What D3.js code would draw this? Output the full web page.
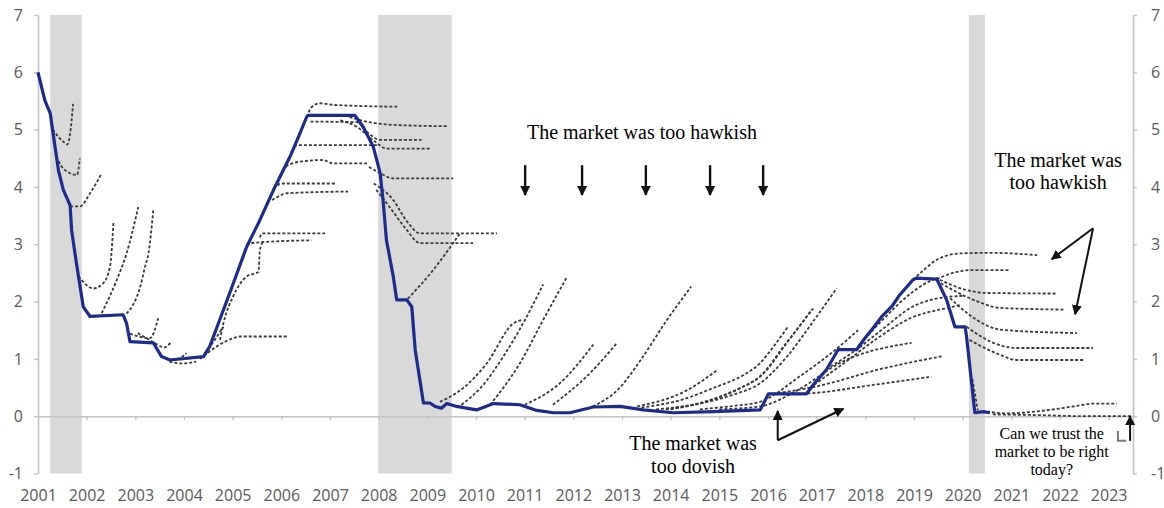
<!DOCTYPE html>
<html><head><meta charset="utf-8">
<script src="https://cdn.jsdelivr.net/npm/d3@7"></script>
<style>
html,body{margin:0;padding:0;background:#fff;}
svg{display:block;}
</style></head><body>
<svg id="chart" width="1164" height="508"></svg>
<script>
// ---------------- DATA ----------------
const yearTicks = d3.range(2001, 2024);            // x labels 2001..2023
const yTicks = [-1, 0, 1, 2, 3, 4, 5, 6, 7];
const recessions = [[2001.25, 2001.90], [2007.99, 2009.50], [2020.13, 2020.46]];

// Fed funds rate (solid blue line)
const fedYears = [2001.00,2001.14,2001.25,2001.35,2001.42,2001.52,2001.66,2001.69,2001.80,2001.93,2002.07,2002.75,2002.82,2002.89,
  2003.37,2003.54,2003.71,2004.40,2004.53,2004.94,2005.29,2005.53,2005.84,2006.18,2006.38,2006.52,2006.55,2007.51,2007.68,2007.89,
  2008.03,2008.09,2008.16,2008.30,2008.37,2008.58,2008.68,2008.75,2008.92,2009.05,2009.16,2009.29,2009.40,2009.60,2010.01,2010.36,
  2010.90,2011.25,2011.59,2011.93,2012.41,2012.96,2013.44,2014.05,2014.88,2015.84,2016.01,2016.79,2016.96,2017.20,2017.44,2017.82,
  2017.99,2018.16,2018.34,2018.54,2018.71,2018.98,2019.05,2019.47,2019.67,2019.84,2020.05,2020.08,2020.25,2020.42,2020.56];
const fedRates = [6.00,5.51,5.29,4.70,4.29,3.95,3.68,3.25,2.61,1.91,1.74,1.77,1.62,1.30,
  1.28,1.04,0.98,1.04,1.22,2.15,2.96,3.37,3.95,4.53,4.93,5.22,5.25,5.25,5.05,4.70,
  4.24,3.77,3.07,2.44,2.03,2.03,1.91,1.16,0.23,0.23,0.17,0.14,0.22,0.17,0.11,0.22,
  0.20,0.10,0.06,0.06,0.16,0.17,0.11,0.06,0.08,0.11,0.39,0.39,0.58,0.81,1.16,1.16,
  1.36,1.54,1.74,1.91,2.12,2.38,2.41,2.39,2.03,1.56,1.56,1.39,0.06,0.08,0.06];

// Market-implied paths (dotted), grouped by period: [year, rate]
const paths2001 = [
  [[2001.30,5.00],[2001.52,4.79],[2001.60,4.74],[2001.66,4.93],[2001.72,5.45]],
  [[2001.38,4.53],[2001.52,4.32],[2001.80,4.21],[2001.86,4.50]],
  [[2001.66,3.66],[2001.86,3.66],[2002.07,3.89],[2002.31,4.24]],
  [[2001.83,2.44],[2002.14,2.23],[2002.34,2.32],[2002.48,2.61],[2002.55,3.37]],
  [[2002.31,1.80],[2002.62,2.38],[2002.82,2.84],[2003.06,3.65]],
  [[2002.82,1.79],[2003.10,2.26],[2003.20,2.61],[2003.27,2.84],[2003.37,3.60]],
  [[2002.89,1.44],[2003.30,1.36],[2003.47,1.71]],
  [[2003.05,1.45],[2003.35,1.30],[2003.60,1.20],[2003.72,1.28]],
  [[2003.65,1.00],[2003.85,1.00],[2004.05,1.10]],
  [[2003.70,0.95],[2003.95,0.92],[2004.25,0.95]]
];
const paths2004 = [
  [[2004.33,1.00],[2004.68,1.22],[2005.01,1.36],[2005.15,1.39],[2006.12,1.39]],
  [[2004.45,1.10],[2004.81,1.56]],
  [[2004.74,1.33],[2004.81,1.62],[2005.01,2.09],[2005.29,2.44],[2005.53,2.52],[2005.56,2.90],[2005.63,3.05]],
  [[2005.25,2.90],[2005.36,3.02],[2006.62,3.07]],
  [[2005.56,3.12],[2005.60,3.19],[2006.90,3.19]],
  [[2005.81,3.77],[2005.87,3.80],[2006.12,3.89],[2007.37,3.92]],
  [[2005.93,4.02],[2005.97,4.06],[2007.14,4.06]],
  [[2006.03,4.29],[2006.08,4.35],[2006.38,4.44],[2006.86,4.47],[2007.06,4.41],[2007.76,4.41]],
  [[2006.27,4.70],[2006.32,4.73],[2008.03,4.73]]
];
const paths2007 = [
  [[2006.52,5.22],[2006.63,5.40],[2006.80,5.46],[2007.10,5.43],[2008.38,5.40]],
  [[2007.40,5.22],[2007.75,5.14],[2008.37,5.08],[2009.40,5.06]],
  [[2006.60,5.14],[2007.55,5.13],[2007.76,4.96],[2008.03,4.82],[2008.88,4.82]],
  [[2007.21,5.16],[2007.55,5.05],[2007.88,4.82],[2008.17,4.67],[2009.05,4.67]],
  [[2007.80,4.35],[2008.03,4.24],[2008.30,4.15],[2009.53,4.15]],
  [[2007.90,4.06],[2008.30,3.77],[2008.58,3.40],[2008.85,3.19],[2010.43,3.19]],
  [[2007.95,3.95],[2008.25,3.62],[2008.55,3.28],[2008.85,3.02],[2009.94,3.02]],
  [[2008.60,2.05],[2009.12,2.55],[2009.53,3.02],[2009.67,3.19]]
];
const paths2009 = [
  [[2009.26,0.25],[2009.75,0.50],[2010.22,0.92],[2010.77,1.62],[2010.94,1.68]],
  [[2009.70,0.20],[2010.10,0.50],[2010.56,1.04],[2011.00,1.67],[2011.38,2.30]],
  [[2010.29,0.20],[2010.90,0.92],[2011.38,1.68],[2011.87,2.43]],
  [[2011.00,0.20],[2011.73,0.58],[2012.41,1.25]],
  [[2011.58,0.20],[2012.27,0.69],[2012.90,1.28]],
  [[2012.40,0.17],[2012.90,0.45],[2013.40,1.00],[2013.90,1.65],[2014.42,2.26]],
  [[2013.31,0.17],[2014.33,0.45],[2014.95,0.80]]
];
const paths2014 = [
  [[2013.70,0.12],[2014.60,0.22],[2015.30,0.38],[2015.83,0.57],[2016.40,1.05],[2016.90,1.62],[2017.41,2.23]],
  [[2013.90,0.12],[2014.80,0.28],[2015.40,0.48],[2015.83,0.69],[2016.35,1.25],[2016.93,1.88]],
  [[2014.00,0.12],[2014.90,0.30],[2015.45,0.50],[2015.88,0.72],[2016.38,1.27],[2016.90,1.86]],
  [[2013.40,0.15],[2014.20,0.28],[2014.90,0.50],[2015.50,0.72],[2015.83,0.92],[2016.10,1.20],[2016.41,1.56]],
  [[2014.60,0.12],[2015.30,0.18],[2015.83,0.25],[2016.66,0.70],[2017.30,1.10],[2017.85,1.50]],
  [[2015.00,0.12],[2015.83,0.17],[2016.60,0.45],[2017.48,0.93],[2018.95,1.28]],
  [[2016.10,0.39],[2017.00,0.52],[2018.30,0.82],[2019.60,1.05]],
  [[2016.50,0.39],[2016.86,0.40],[2018.20,0.55],[2019.36,0.69]]
];
const paths2017 = [
  [[2016.95,0.55],[2017.60,0.95],[2018.25,1.36],[2018.90,1.70],[2019.75,1.90],[2019.95,1.94]],
  [[2017.20,0.82],[2017.80,1.15],[2018.40,1.55],[2018.95,1.90],[2019.45,2.05],[2020.00,2.10]],
  [[2017.85,1.22],[2018.40,1.72],[2018.90,2.12],[2019.20,2.30],[2019.50,2.42]]
];
const paths2019 = [
  [[2018.98,2.38],[2019.20,2.55],[2019.47,2.73],[2019.94,2.84],[2020.60,2.85],[2021.53,2.81]],
  [[2019.47,2.39],[2019.80,2.50],[2020.20,2.55],[2020.97,2.55]],
  [[2019.53,2.38],[2020.08,2.20],[2020.49,2.15],[2021.93,2.14]],
  [[2019.55,2.32],[2020.22,2.03],[2020.77,1.89],[2022.07,1.86]],
  [[2019.74,2.06],[2020.29,1.68],[2020.77,1.51],[2022.35,1.45]],
  [[2020.08,1.56],[2020.63,1.28],[2021.11,1.19],[2022.68,1.19]],
  [[2020.14,1.33],[2020.77,1.07],[2021.11,0.98],[2022.48,0.98]],
  [[2020.20,0.65],[2020.28,0.25],[2020.31,0.10]],
  [[2020.50,0.08],[2020.90,0.05],[2021.79,0.11],[2022.35,0.18],[2022.68,0.22],[2023.17,0.22]],
  [[2020.62,0.03],[2021.50,0.02],[2022.50,0.00],[2023.48,0.00]]
];

// Annotations (data coordinates)
const hawkTitle = {text: "The market was too hawkish", year: 2013.41, rate: 4.84};
const hawkArrowYears = [2011.01, 2012.18, 2013.49, 2014.81, 2015.90];
const hawkArrowFrom = 4.38, hawkArrowTo = 3.86;
const hawkRight = {lines: ["The market was", "too hawkish"], year: 2021.96, rates: [4.35, 3.96]};
const hawkRightArrows = [[[2022.68, 3.28], [2021.83, 2.74]], [[2022.68, 3.28], [2022.31, 1.78]]];
const dovish = {lines: ["The market was", "too dovish"], year: 2014.46, rates: [-0.59, -0.99]};
const dovishArrows = [[[2016.20, -0.42], [2016.20, 0.09]], [[2016.20, -0.42], [2017.55, 0.13]]];
const trust = {lines: ["Can we trust the", "market to be right", "today?"], year: 2021.83, rates: [-0.40, -0.71, -1.02]};
const trustArrow = [[2023.44, -0.43], [2023.44, 0.00]];
const trustBracket = [[2023.19, -0.26], [2023.19, -0.43], [2023.36, -0.43]];

// ---------------- CHART ----------------
const svg = d3.select("#chart");
const x = d3.scaleLinear().domain([2001, 2023.5]).range([38, 1133]);
const y = d3.scaleLinear().domain([-1, 7]).range([473.5, 15]);
const axisColor = "#c4c4c4", labelColor = "#5a5a5a";
const labelFont = "'Open Sans', 'DejaVu Sans', sans-serif";

const defs = svg.append("defs");
defs.append("marker").attr("id", "ah").attr("viewBox", "0 0 10 10")
  .attr("refX", 9).attr("refY", 5).attr("markerWidth", 10).attr("markerHeight", 10)
  .attr("markerUnits", "userSpaceOnUse").attr("orient", "auto")
  .append("path").attr("d", "M0,0L10,5L0,10z").attr("fill", "#111");

// recession shading
svg.append("g").selectAll("rect").data(recessions).join("rect")
  .attr("x", d => x(d[0])).attr("width", d => x(d[1]) - x(d[0]))
  .attr("y", y(7)).attr("height", y(-1) - y(7)).attr("fill", "#d9d9d9");

function styleAxis(g) {
  g.select(".domain").attr("stroke", axisColor).attr("stroke-width", 1.6);
  g.selectAll(".tick line").attr("stroke", axisColor).attr("stroke-width", 1.4);
  g.selectAll(".tick text").attr("fill", labelColor).style("font-family", labelFont).style("font-size", "16px");
}
const axL = svg.append("g").attr("transform", `translate(${x(2001)},0)`)
  .call(d3.axisLeft(y).tickValues(yTicks).tickSize(4).tickSizeOuter(0).tickPadding(11).tickFormat(d => String(d)));
styleAxis(axL);
const axR = svg.append("g").attr("transform", `translate(${x(2023.5)},0)`)
  .call(d3.axisRight(y).tickValues(yTicks).tickSize(4).tickSizeOuter(0).tickPadding(14).tickFormat(d => String(d)));
styleAxis(axR);
const axZero = svg.append("g").attr("transform", `translate(0,${y(0)})`)
  .call(d3.axisBottom(x).tickValues(d3.range(2002, 2024)).tickSize(4).tickSizeOuter(0).tickFormat(""));
styleAxis(axZero);
const axYears = svg.append("g").attr("transform", `translate(0,490)`)
  .call(d3.axisBottom(x).tickValues(yearTicks).tickSize(0).tickPadding(0).tickFormat(d3.format("d")));
axYears.select(".domain").remove();
styleAxis(axYears);

// dotted market paths
const line = d3.line().x(d => x(d[0])).y(d => y(d[1])).curve(d3.curveMonotoneX);
const allPaths = [].concat(paths2001, paths2004, paths2007, paths2009, paths2014, paths2017, paths2019);
svg.append("g").selectAll("path").data(allPaths).join("path")
  .attr("d", line).attr("fill", "none").attr("stroke", "#3a3a3a")
  .attr("stroke-width", 1.8).attr("stroke-dasharray", "3,2");

// fed funds line
const fed = d3.zip(fedYears, fedRates);
svg.append("path").datum(fed)
  .attr("d", d3.line().x(d => x(d[0])).y(d => y(d[1])))
  .attr("fill", "none").attr("stroke", "#1d2a8e").attr("stroke-width", 3.2)
  .attr("stroke-linejoin", "round");

// annotations
const serif = "'Liberation Serif', 'Times New Roman', serif";
svg.append("text").attr("x", x(hawkTitle.year)).attr("y", y(hawkTitle.rate))
  .attr("text-anchor", "middle").style("font-family", serif).style("font-size", "20px").attr("fill", "#000")
  .text(hawkTitle.text);
svg.append("g").selectAll("line").data(hawkArrowYears).join("line")
  .attr("x1", d => x(d)).attr("x2", d => x(d)).attr("y1", y(hawkArrowFrom)).attr("y2", y(hawkArrowTo))
  .attr("stroke", "#111").attr("stroke-width", 2.4).attr("marker-end", "url(#ah)");

function multiText(o, size) {
  svg.append("g").selectAll("text").data(o.lines).join("text")
    .attr("x", x(o.year)).attr("y", (d, i) => y(o.rates[i]))
    .attr("text-anchor", "middle").style("font-family", serif).style("font-size", size + "px")
    .attr("fill", "#000").text(d => d);
}
multiText(hawkRight, 20);
multiText(dovish, 20);
multiText(trust, 16);

const arrowLine = d3.line().x(d => x(d[0])).y(d => y(d[1]));
svg.append("g").selectAll("path").data([].concat(hawkRightArrows, dovishArrows, [trustArrow])).join("path")
  .attr("d", arrowLine).attr("fill", "none").attr("stroke", "#111").attr("stroke-width", 2)
  .attr("marker-end", "url(#ah)");
svg.append("path").datum(trustBracket).attr("d", arrowLine).attr("fill", "none")
  .attr("stroke", "#777").attr("stroke-width", 2);
</script>
</body></html>
